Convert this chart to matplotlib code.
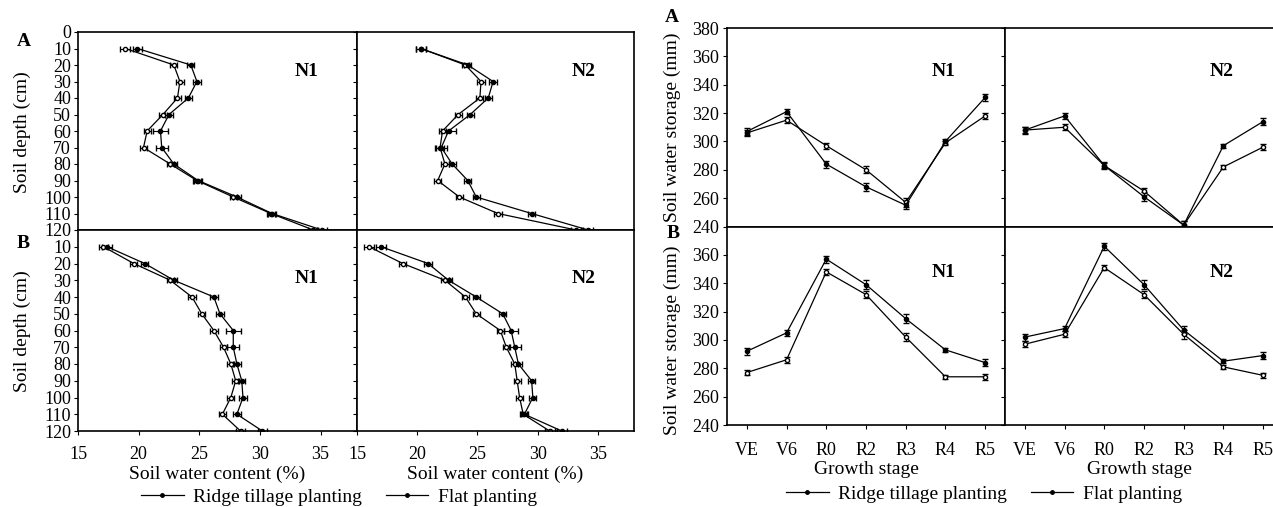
import matplotlib
matplotlib.use("Agg")
import matplotlib.pyplot as plt
from matplotlib.lines import Line2D

plt.rcParams["font.family"] = ["Liberation Serif", "DejaVu Serif"]

# --- soil water content profiles (%), depth in cm ---
depth = [10, 20, 30, 40, 50, 60, 70, 80, 90, 100, 110, 120]

swc_A_N1_ridge = [19.9, 24.3, 24.8, 24.1, 22.5, 21.8, 21.9, 22.9, 24.9, 28.1, 31.0, 35.1]
swc_A_N1_flat = [18.9, 22.9, 23.4, 23.2, 22.0, 20.7, 20.4, 22.6, 24.8, 27.8, 30.9, 34.4]
swc_A_N2_ridge = [20.3, 24.2, 26.3, 25.9, 24.4, 22.6, 22.0, 22.9, 24.2, 24.9, 29.5, 34.2]
swc_A_N2_flat = [20.3, 24.0, 25.3, 25.2, 23.4, 22.1, 21.9, 22.3, 21.7, 23.5, 26.7, 33.2]
swc_B_N1_ridge = [17.4, 20.5, 22.9, 26.2, 26.7, 27.8, 27.8, 28.1, 28.5, 28.6, 28.1, 30.2]
swc_B_N1_flat = [17.1, 19.6, 22.6, 24.4, 25.2, 26.2, 27.0, 27.6, 28.0, 27.6, 26.9, 28.4]
swc_B_N2_ridge = [17.0, 20.9, 22.6, 24.9, 27.1, 27.8, 28.1, 28.4, 29.5, 29.6, 28.9, 32.0]
swc_B_N2_flat = [16.0, 18.8, 22.3, 24.0, 24.9, 26.9, 27.4, 28.1, 28.3, 28.5, 28.8, 31.0]

swc_err_ridge = [0.4, 0.3, 0.3, 0.3, 0.3, 0.6, 0.5, 0.3, 0.3, 0.3, 0.3, 0.4]
swc_err_flat = [0.4, 0.3, 0.3, 0.3, 0.3, 0.3, 0.3, 0.3, 0.3, 0.3, 0.3, 0.4]

# --- soil water storage (mm) by growth stage ---
stages = ["VE", "V6", "R0", "R2", "R3", "R4", "R5"]

sws_A_N1_ridge = [307, 321, 284, 268, 255, 300, 331]
sws_A_N1_flat = [306, 315, 297, 280, 257, 299, 318]
sws_A_N2_ridge = [308, 318, 283, 261, 241, 297, 314]
sws_A_N2_flat = [308, 310, 283, 265, 241, 282, 296]
sws_B_N1_ridge = [292, 305, 357, 339, 315, 293, 284]
sws_B_N1_flat = [277, 286, 348, 332, 302, 274, 274]
sws_B_N2_ridge = [302, 308, 366, 339, 307, 285, 289]
sws_B_N2_flat = [297, 304, 351, 332, 304, 281, 275]

sws_err_ridge = [2.5, 2.0, 2.5, 3.0, 3.0, 1.5, 2.5]
sws_err_flat = [2.0, 2.0, 2.0, 2.5, 3.0, 1.5, 2.0]

W, H = 1273, 507


def rect(x0, y0, x1, y1):
    # pixel box -> figure fraction
    return [x0 / W, 1 - y1 / H, (x1 - x0) / W, (y1 - y0) / H]


def fx(x):
    return x / W


def fy(y):
    return 1 - y / H


fig = plt.figure(figsize=(W / 100, H / 100), dpi=100)

line_kw = dict(color="black", linewidth=0.9, markersize=3.0,
               ecolor="black", elinewidth=0.8, capsize=2.2)
ridge_kw = dict(marker="o", markerfacecolor="black", markeredgecolor="black")
flat_kw = dict(marker="o", markerfacecolor="white", markeredgecolor="black")

# ---------------- left: soil water content ----------------
left_boxes = {
    ("A", "N1"): rect(78, 32, 357, 230),
    ("A", "N2"): rect(357, 32, 634, 230),
    ("B", "N1"): rect(78, 230, 357, 431),
    ("B", "N2"): rect(357, 230, 634, 431),
}
left_data = {
    ("A", "N1"): (swc_A_N1_ridge, swc_A_N1_flat),
    ("A", "N2"): (swc_A_N2_ridge, swc_A_N2_flat),
    ("B", "N1"): (swc_B_N1_ridge, swc_B_N1_flat),
    ("B", "N2"): (swc_B_N2_ridge, swc_B_N2_flat),
}

for (row, n), box in left_boxes.items():
    ax = fig.add_axes(box)
    ridge, flat = left_data[(row, n)]
    ax.errorbar(flat, depth, xerr=swc_err_flat, **line_kw, **flat_kw)
    ax.errorbar(ridge, depth, xerr=swc_err_ridge, **line_kw, **ridge_kw)
    ax.set_xlim(15, 38)
    ax.set_ylim(120, 0)
    ax.set_xticks([15, 20, 25, 30, 35])
    if row == "A":
        ax.set_yticks(range(0, 121, 10))
        ax.set_xticklabels([])
    else:
        ax.set_yticks(range(10, 121, 10))
        ax.set_xlabel("Soil water content (%)", fontsize=14, labelpad=2)
    if n == "N2":
        ax.set_yticklabels([])
    ax.tick_params(direction="out", length=3, width=0.8, labelsize=13, pad=3)
    ax.tick_params(axis="x", pad=8)
    ax.tick_params(axis="y", pad=2)
    for s in ax.spines.values():
        s.set_linewidth(1.2)
    ax.text(0.82, 0.80 if row == "A" else 0.76, n, transform=ax.transAxes,
            fontsize=14, fontweight="bold", ha="center", va="center")

fig.text(fx(22), fy(132), "Soil depth (cm)", rotation=90, fontsize=14,
         ha="center", va="center")
fig.text(fx(22), fy(331), "Soil depth (cm)", rotation=90, fontsize=14,
         ha="center", va="center")
fig.text(fx(24), fy(42), "A", fontsize=14, fontweight="bold", ha="center", va="center")
fig.text(fx(23), fy(244), "B", fontsize=14, fontweight="bold", ha="center", va="center")

# ---------------- right: soil water storage ----------------
right_boxes = {
    ("A", "N1"): rect(727, 28, 1005, 226.5),
    ("A", "N2"): rect(1005, 28, 1273, 226.5),
    ("B", "N1"): rect(727, 226.5, 1005, 425),
    ("B", "N2"): rect(1005, 226.5, 1273, 425),
}
right_data = {
    ("A", "N1"): (sws_A_N1_ridge, sws_A_N1_flat),
    ("A", "N2"): (sws_A_N2_ridge, sws_A_N2_flat),
    ("B", "N1"): (sws_B_N1_ridge, sws_B_N1_flat),
    ("B", "N2"): (sws_B_N2_ridge, sws_B_N2_flat),
}
xs = list(range(len(stages)))

for (row, n), box in right_boxes.items():
    ax = fig.add_axes(box)
    ridge, flat = right_data[(row, n)]
    ax.errorbar(xs, flat, yerr=sws_err_flat, **line_kw, **flat_kw)
    ax.errorbar(xs, ridge, yerr=sws_err_ridge, **line_kw, **ridge_kw)
    ax.set_xlim(-0.5, 6.5 if n == "N1" else 6.25)
    ax.set_ylim(240, 380)
    ax.set_xticks(xs)
    if row == "A":
        ax.set_yticks(range(240, 381, 20))
        ax.set_xticklabels([])
    else:
        ax.set_yticks(range(240, 361, 20))
        ax.set_xticklabels(stages)
        ax.set_xlabel("Growth stage", fontsize=14, labelpad=2)
    if n == "N2":
        ax.set_yticklabels([])
        ax.spines["right"].set_visible(False)
    ax.tick_params(direction="out", length=3, width=0.8, labelsize=13, pad=3)
    ax.tick_params(axis="x", pad=9)
    for s in ax.spines.values():
        s.set_linewidth(1.2)
    ax.text(0.78 if n == "N1" else 0.81, 0.78 if row == "A" else 0.77, n,
            transform=ax.transAxes, fontsize=14, fontweight="bold",
            ha="center", va="center")

fig.text(fx(672), fy(127), "Soil water storage (mm)", rotation=90, fontsize=14,
         ha="center", va="center")
fig.text(fx(672), fy(340), "Soil water storage (mm)", rotation=90, fontsize=14,
         ha="center", va="center")
fig.text(fx(672), fy(18), "A", fontsize=14, fontweight="bold", ha="center", va="center")
fig.text(fx(673), fy(233), "B", fontsize=14, fontweight="bold", ha="center", va="center")

# ---------------- legends ----------------
handles = [
    Line2D([], [], color="black", linewidth=0.9, marker="o", markersize=2.5,
           label="Ridge tillage planting"),
    Line2D([], [], color="black", linewidth=0.9, marker="o", markersize=2.5,
           label="Flat planting"),
]
for cx, cy in ((339, 497), (984, 494)):
    fig.legend(handles=handles, loc="center", bbox_to_anchor=(fx(cx), fy(cy)),
               ncol=2, frameon=False, fontsize=14, handlelength=2.2,
               handletextpad=0.5, columnspacing=1.2, numpoints=1,
               borderpad=0.1)

fig.savefig("out.png", dpi=100)
